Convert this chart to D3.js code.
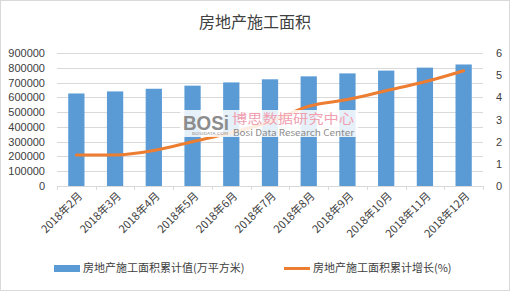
<!DOCTYPE html>
<html>
<head>
<meta charset="utf-8">
<script src="https://d3js.org/d3.v7.min.js"></script>
<style>
  body { margin: 0; background: #fff; }
  text { font-family: "Microsoft YaHei", "Noto Sans CJK SC", sans-serif; fill: #404040; }
</style>
</head>
<body>
<div id="chart"></div>
<script>
var months = ['2018年2月', '2018年3月', '2018年4月', '2018年5月', '2018年6月', '2018年7月',
              '2018年8月', '2018年9月', '2018年10月', '2018年11月', '2018年12月'];
var area = [626000, 640000, 658000, 679000, 701000, 722000, 742000, 762000, 781000, 801000, 822300];
var growth = [1.4, 1.4, 1.6, 2.0, 2.4, 2.9, 3.6, 3.9, 4.3, 4.7, 5.2];
var leftTicks = [0, 100000, 200000, 300000, 400000, 500000, 600000, 700000, 800000, 900000];
var rightTicks = [0, 1, 2, 3, 4, 5, 6];

var width = 510, height = 291;
var plotLeft = 57, plotRight = 483, plotTop = 53, plotBottom = 186;

var svg = d3.select("#chart").append("svg")
  .attr("width", width)
  .attr("height", height);

svg.append("rect")
  .attr("x", 0.5).attr("y", 0.5)
  .attr("width", width - 1).attr("height", height - 1)
  .attr("fill", "#fff").attr("stroke", "#d9d9d9");

svg.append("text")
  .attr("x", width / 2).attr("y", 28)
  .attr("text-anchor", "middle")
  .style("font-size", "16px")
  .text("房地产施工面积");

var x = d3.scaleBand().domain(months).range([plotLeft, plotRight]).paddingInner(0.58).paddingOuter(0.29);
var xo = d3.scaleBand().domain(months).range([plotLeft, plotRight]);
var y = d3.scaleLinear().domain([0, 900000]).range([plotBottom, plotTop]);
var y2 = d3.scaleLinear().domain([0, 6]).range([plotBottom, plotTop]);

// grid
svg.append("g").selectAll("line").data(leftTicks.slice(1)).enter().append("line")
  .attr("x1", plotLeft).attr("x2", plotRight)
  .attr("y1", function(d) { return Math.round(y(d)) + 0.5; })
  .attr("y2", function(d) { return Math.round(y(d)) + 0.5; })
  .attr("stroke", "#d9d9d9");

// axes
var gl = svg.append("g").attr("transform", "translate(" + (plotLeft - 9) + ",0)")
  .call(d3.axisLeft(y).tickValues(leftTicks).tickSize(0).tickFormat(d3.format("d")));
gl.select(".domain").remove();
gl.selectAll("text").style("font-size", "11px").style("font-family", "Arial, 'Liberation Sans', sans-serif").style("fill", "#404040");

var gr = svg.append("g").attr("transform", "translate(" + (plotRight + 10) + ",0)")
  .call(d3.axisRight(y2).tickValues(rightTicks).tickSize(0).tickFormat(d3.format("d")));
gr.select(".domain").remove();
gr.selectAll("text").style("font-size", "11px").style("font-family", "Arial, 'Liberation Sans', sans-serif").style("fill", "#404040");

// bars
svg.append("g").selectAll("rect").data(area).enter().append("rect")
  .attr("x", function(d, i) { return x(months[i]); })
  .attr("y", function(d) { return y(d); })
  .attr("width", x.bandwidth())
  .attr("height", function(d) { return plotBottom - y(d); })
  .attr("fill", "#5b9bd5");

// x axis
svg.append("line")
  .attr("x1", plotLeft).attr("x2", plotRight)
  .attr("y1", plotBottom + 0.5).attr("y2", plotBottom + 0.5)
  .attr("stroke", "#d9d9d9");
svg.append("g").selectAll("line").data(months.concat(["end"])).enter().append("line")
  .attr("x1", function(d, i) { return Math.round(plotLeft + i * xo.step()) + 0.5; })
  .attr("x2", function(d, i) { return Math.round(plotLeft + i * xo.step()) + 0.5; })
  .attr("y1", plotBottom).attr("y2", plotBottom + 4)
  .attr("stroke", "#d9d9d9");

svg.append("g").selectAll("text").data(months).enter().append("text")
  .attr("transform", function(d) {
    return "translate(" + (xo(d) + xo.bandwidth() / 2 + 4) + "," + (plotBottom + 8) + ") rotate(-45)";
  })
  .attr("text-anchor", "end")
  .attr("dy", "0.35em")
  .style("font-size", "11px")
  .text(function(d) { return d; });

// line
var line = d3.line()
  .x(function(d, i) { return xo(months[i]) + xo.bandwidth() / 2; })
  .y(function(d) { return y2(d); })
  .curve(d3.curveMonotoneX);
svg.append("path").datum(growth)
  .attr("d", line)
  .attr("fill", "none")
  .attr("stroke", "#ed7d31")
  .attr("stroke-width", 3)
  .attr("stroke-linecap", "round");

// watermark
var wm = svg.append("g").attr("transform", "translate(180,108)");
wm.append("rect").attr("x", 0).attr("y", 2).attr("width", 178).attr("height", 27)
  .attr("fill", "#fff").attr("opacity", 0.85);
wm.append("text").attr("x", 3).attr("y", 22)
  .attr("textLength", 46).attr("lengthAdjust", "spacingAndGlyphs")
  .style("font-size", "21px").style("font-weight", "bold")
  .style("font-family", "Arial, 'Liberation Sans', sans-serif")
  .style("fill", "#8c8c8c")
  .text("BOSi");
wm.append("text").attr("x", 52).attr("y", 15)
  .attr("textLength", 122).attr("lengthAdjust", "spacingAndGlyphs")
  .style("font-size", "13px").style("fill", "#f0a0b0")
  .text("博思数据研究中心");
wm.append("text").attr("x", 53).attr("y", 28)
  .attr("textLength", 121).attr("lengthAdjust", "spacingAndGlyphs")
  .style("font-size", "8.5px").style("fill", "#8c8c8c")
  .text("Bosi Data Research Center");
wm.append("text").attr("x", 12).attr("y", 27)
  .attr("textLength", 36).attr("lengthAdjust", "spacingAndGlyphs")
  .style("font-size", "4px").style("fill", "#8c8c8c")
  .text("BOSIDATA.COM");

// legend
var lg = svg.append("g");
lg.append("rect").attr("x", 54).attr("y", 265).attr("width", 26).attr("height", 7).attr("fill", "#5b9bd5");
lg.append("text").attr("x", 83).attr("y", 268).attr("dy", "0.35em").style("font-size", "11px")
  .text("房地产施工面积累计值(万平方米)");
lg.append("line").attr("x1", 284).attr("x2", 310).attr("y1", 268.5).attr("y2", 268.5)
  .attr("stroke", "#ed7d31").attr("stroke-width", 3);
lg.append("text").attr("x", 313).attr("y", 268).attr("dy", "0.35em").style("font-size", "11px")
  .text("房地产施工面积累计增长(%)");
</script>
</body>
</html>
